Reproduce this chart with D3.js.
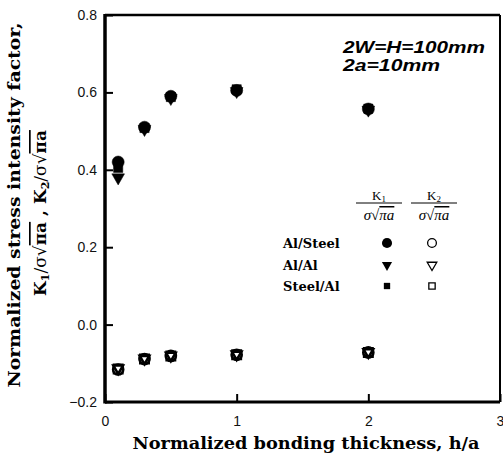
<!DOCTYPE html>
<html>
<head>
<meta charset="utf-8">
<script src="https://cdn.jsdelivr.net/npm/d3@7"></script>
<style>
  body { margin: 0; background: #fff; }
  svg { display: block; }
</style>
</head>
<body>
<div id="vis"></div>
<script>
// normalized bonding thickness h/a
const H_A = [0.1, 0.3, 0.5, 1, 2];

// K1 / sigma sqrt(pi a)
const K1_AL_STEEL = [0.42, 0.51, 0.59, 0.605, 0.557];
const K1_AL_AL = [0.38, 0.505, 0.585, 0.603, 0.555];
const K1_STEEL_AL = [0.405, 0.508, 0.588, 0.608, 0.558];

// K2 / sigma sqrt(pi a)
const K2_AL_STEEL = [-0.116, -0.089, -0.081, -0.078, -0.072];
const K2_AL_AL = [-0.113, -0.088, -0.080, -0.077, -0.071];
const K2_STEEL_AL = [-0.115, -0.089, -0.081, -0.078, -0.072];

const X_TICKS = [0, 1, 2, 3];
const Y_TICKS = [-0.2, 0.0, 0.2, 0.4, 0.6, 0.8];

const MATERIALS = ["Al/Steel", "Al/Al", "Steel/Al"];

// frame
const FRAME_HEIGHT = 462;
const FRAME_WIDTH = 503;
const MARGINS = {left: 105, right: 3, top: 15, bottom: 60};

const SERIF = "'DejaVu Serif', serif";
const SANS = "'Liberation Sans', Arial, sans-serif";

const FRAME = d3.select("#vis")
                .append("svg")
                  .attr("height", FRAME_HEIGHT)
                  .attr("width", FRAME_WIDTH);

const X_SCALE = d3.scaleLinear()
                  .domain([0, 3])
                  .range([MARGINS.left, FRAME_WIDTH - MARGINS.right]);

const Y_SCALE = d3.scaleLinear()
                  .domain([-0.2, 0.8])
                  .range([FRAME_HEIGHT - MARGINS.bottom, MARGINS.top]);

// axes with inward ticks
const yAxis = FRAME.append("g")
      .attr("transform", "translate(" + MARGINS.left + ",0)")
      .call(d3.axisLeft(Y_SCALE).tickValues(Y_TICKS).tickFormat(d3.format(".1f"))
              .tickSizeInner(-8).tickSizeOuter(0).tickPadding(8));

const xAxis = FRAME.append("g")
      .attr("transform", "translate(0," + Y_SCALE(-0.2) + ")")
      .call(d3.axisBottom(X_SCALE).tickValues(X_TICKS).tickFormat(d3.format("d"))
              .tickSizeInner(-8).tickSizeOuter(0).tickPadding(14));

[yAxis, xAxis].forEach((ax) => {
  ax.select(".domain").remove();
  ax.selectAll(".tick line").attr("stroke", "#000").attr("stroke-width", 2);
  ax.selectAll(".tick text")
      .attr("font-family", SANS)
      .attr("font-size", 14)
      .attr("fill", "#111");
});

// frame box, left and bottom heavier
const X0 = X_SCALE(0), X1 = X_SCALE(3), Y0 = Y_SCALE(-0.2), Y1 = Y_SCALE(0.8);
FRAME.append("line").attr("x1", X0).attr("x2", X1).attr("y1", Y1).attr("y2", Y1)
      .attr("stroke", "#000").attr("stroke-width", 2.5);
FRAME.append("line").attr("x1", X1).attr("x2", X1).attr("y1", Y1).attr("y2", Y0)
      .attr("stroke", "#000").attr("stroke-width", 2);
FRAME.append("line").attr("x1", X0).attr("x2", X0).attr("y1", Y1 - 1).attr("y2", Y0 + 1.5)
      .attr("stroke", "#000").attr("stroke-width", 3.5);
FRAME.append("line").attr("x1", X0).attr("x2", X1).attr("y1", Y0).attr("y2", Y0)
      .attr("stroke", "#000").attr("stroke-width", 3);

// marker symbols
const SYM = {
  circle: d3.symbol().type(d3.symbolCircle),
  square: d3.symbol().type(d3.symbolSquare),
  tri: d3.symbol().type(d3.symbolTriangle)
};

function drawSeries(values, kind, size, filled) {
  FRAME.append("g")
    .selectAll("path")
    .data(values)
    .enter()
    .append("path")
      .attr("d", SYM[kind].size(size))
      .attr("transform", (d, i) => {
        return "translate(" + X_SCALE(H_A[i]) + "," + Y_SCALE(d) + ")" +
               (kind === "tri" ? " rotate(180)" : "");
      })
      .attr("fill", filled ? "#000" : "#fff")
      .attr("stroke", "#000")
      .attr("stroke-width", filled ? 0.5 : 2.6);
}

// K1 (filled)
drawSeries(K1_STEEL_AL, "square", 85, true);
drawSeries(K1_AL_AL, "tri", 70, true);
drawSeries(K1_AL_STEEL, "circle", 115, true);

// K2 (hollow)
drawSeries(K2_STEEL_AL, "square", 70, false);
drawSeries(K2_AL_STEEL, "circle", 80, false);
drawSeries(K2_AL_AL, "tri", 40, false);

// annotation
FRAME.append("text")
    .attr("x", 343).attr("y", 53)
    .attr("font-family", SANS).attr("font-size", 17)
    .attr("font-weight", "bold").attr("font-style", "italic")
    .attr("textLength", 142).attr("lengthAdjust", "spacingAndGlyphs")
    .text("2W=H=100mm");
FRAME.append("text")
    .attr("x", 343).attr("y", 71)
    .attr("font-family", SANS).attr("font-size", 17)
    .attr("font-weight", "bold").attr("font-style", "italic")
    .attr("textLength", 97).attr("lengthAdjust", "spacingAndGlyphs")
    .text("2a=10mm");

// legend header fractions
function fraction(cx, sub) {
  const g = FRAME.append("g").attr("font-family", "'Liberation Serif', serif");
  const num = g.append("text")
      .attr("x", cx).attr("y", 200)
      .attr("text-anchor", "middle").attr("font-size", 13);
  num.append("tspan").text("K");
  num.append("tspan").attr("font-size", 9).attr("dy", 2).text(sub);
  g.append("line")
      .attr("x1", cx - 23).attr("x2", cx + 23)
      .attr("y1", 203).attr("y2", 203)
      .attr("stroke", "#000").attr("stroke-width", 1);
  const den = g.append("text")
      .attr("x", cx).attr("y", 220)
      .attr("text-anchor", "middle").attr("font-size", 15)
      .attr("font-style", "italic");
  den.append("tspan").text("σ√");
  den.append("tspan").attr("text-decoration", "overline").text("πa");
}
fraction(379, "1");
fraction(434, "2");

// legend rows
const LEG_Y = [243, 265, 286];
const LEG_KINDS = ["circle", "tri", "square"];
const LEG_FILLED_SIZE = [80, 45, 40];
const LEG_HOLLOW_SIZE = [60, 40, 40];

FRAME.append("g")
  .selectAll("text")
  .data(MATERIALS)
  .enter()
  .append("text")
    .attr("x", 283)
    .attr("y", (d, i) => { return LEG_Y[i] + 5; })
    .attr("font-family", SERIF)
    .attr("font-size", 13)
    .attr("font-weight", "bold")
    .text((d) => { return d; });

MATERIALS.forEach((m, i) => {
  const rot = LEG_KINDS[i] === "tri" ? " rotate(180)" : "";
  FRAME.append("path")
      .attr("d", SYM[LEG_KINDS[i]].size(LEG_FILLED_SIZE[i]))
      .attr("transform", "translate(387," + LEG_Y[i] + ")" + rot)
      .attr("fill", "#000");
  FRAME.append("path")
      .attr("d", SYM[LEG_KINDS[i]].size(LEG_HOLLOW_SIZE[i]))
      .attr("transform", "translate(432," + LEG_Y[i] + ")" + rot)
      .attr("fill", "none")
      .attr("stroke", "#000")
      .attr("stroke-width", 1.3);
});

// x axis title
FRAME.append("text")
    .attr("x", 306).attr("y", 449)
    .attr("text-anchor", "middle")
    .attr("font-family", SERIF).attr("font-size", 16).attr("font-weight", "bold")
    .attr("textLength", 347).attr("lengthAdjust", "spacingAndGlyphs")
    .text("Normalized bonding thickness, h/a");

// y axis title, two lines
FRAME.append("text")
    .attr("transform", "translate(20,205) rotate(-90)")
    .attr("text-anchor", "middle")
    .attr("font-family", SERIF).attr("font-size", 16).attr("font-weight", "bold")
    .attr("textLength", 365).attr("lengthAdjust", "spacingAndGlyphs")
    .text("Normalized stress intensity factor,");

const YT2 = FRAME.append("text")
    .attr("transform", "translate(46,213) rotate(-90)")
    .attr("text-anchor", "middle")
    .attr("font-family", SERIF).attr("font-size", 17).attr("font-weight", "bold");
YT2.append("tspan").text("K");
YT2.append("tspan").attr("font-size", 11).attr("dy", 3).text("1");
YT2.append("tspan").attr("dy", -3).attr("font-weight", "normal").text("/σ√");
YT2.append("tspan").attr("text-decoration", "overline").text("πa");
YT2.append("tspan").text(" , K");
YT2.append("tspan").attr("font-size", 11).attr("dy", 3).text("2");
YT2.append("tspan").attr("dy", -3).attr("font-weight", "normal").text("/σ√");
YT2.append("tspan").attr("text-decoration", "overline").text("πa");
</script>
</body>
</html>
